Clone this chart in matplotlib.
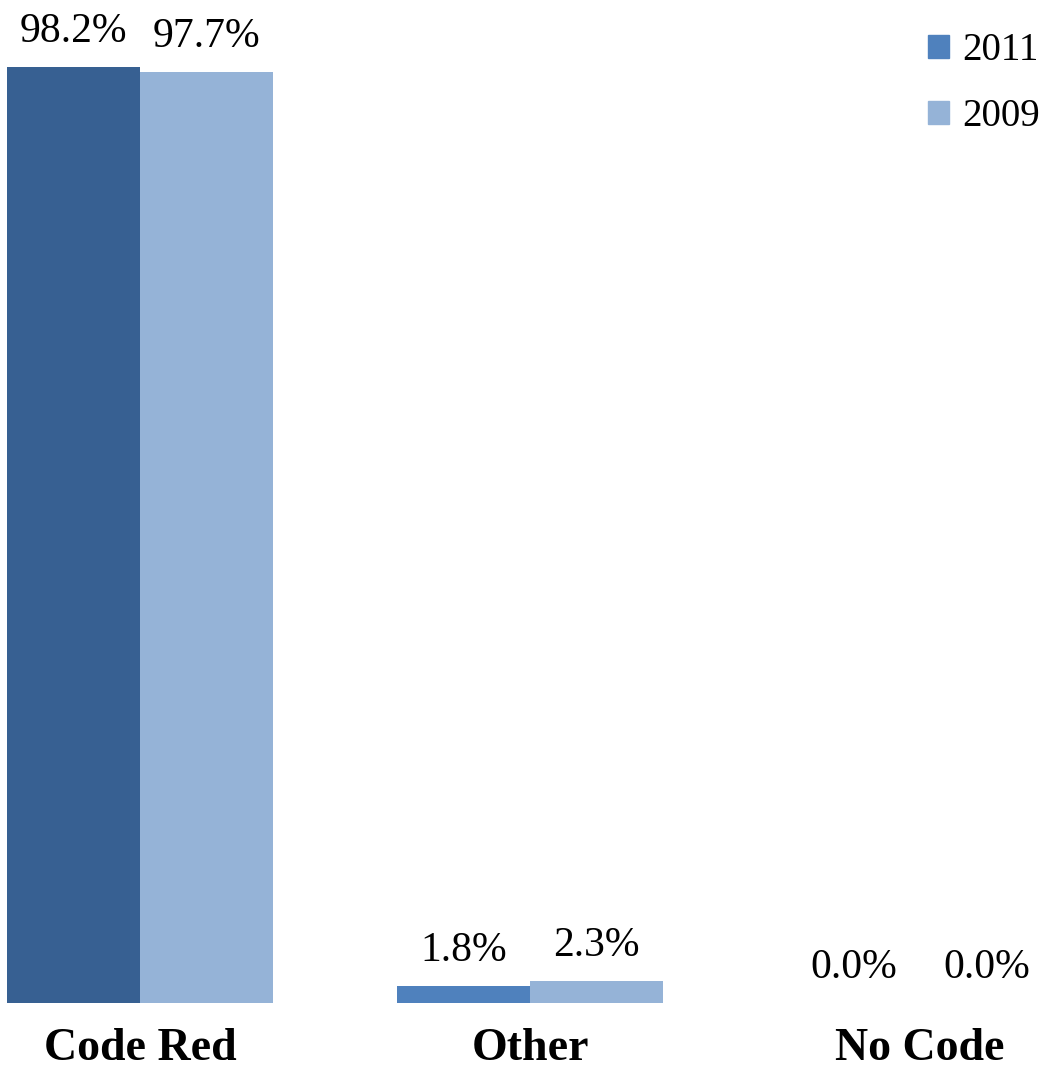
import matplotlib.pyplot as plt
import numpy as np
from matplotlib.patches import Patch

categories = ["Code Red", "Other", "No Code"]
values_2011 = [98.2, 1.8, 0.0]
values_2009 = [97.7, 2.3, 0.0]
labels_2011 = ["98.2%", "1.8%", "0.0%"]
labels_2009 = ["97.7%", "2.3%", "0.0%"]

colors_2011 = ["#376092", "#4F81BD", "#4F81BD"]
color_2009 = "#95B3D7"

plt.rcParams["font.family"] = ["Liberation Serif", "DejaVu Serif"]

fig = plt.figure(figsize=(10.44, 10.70), dpi=100)
ax = fig.add_axes([0, 67 / 1070, 1, 1003 / 1070])

x = np.arange(len(categories))
w = 133 / 390
b1 = ax.bar(x - w / 2, values_2011, w, color=colors_2011, label="2011")
b2 = ax.bar(x + w / 2, values_2009, w, color=color_2009, label="2009")

for bars, labels in ((b1, labels_2011), (b2, labels_2009)):
    for bar, lab in zip(bars, labels):
        ax.annotate(lab, (bar.get_x() + bar.get_width() / 2, bar.get_height()),
                    xytext=(0, 18), textcoords="offset points",
                    ha="center", va="baseline", fontsize=30)

ax.set_xlim(-140 / 390, (1044 - 140) / 390)
ax.set_ylim(0, 1003 / 9.532)
ax.set_xticks(x)
ax.set_xticklabels(categories, fontsize=33, fontweight="bold")
ax.tick_params(axis="x", length=0, pad=18)
ax.set_yticks([])
for s in ax.spines.values():
    s.set_visible(False)

handles = [Patch(color="#4F81BD", label="2011"), Patch(color=color_2009, label="2009")]
fig.legend(handles=handles, loc="upper right", bbox_to_anchor=(0.996, 0.970),
           frameon=False, fontsize=28, handlelength=0.55, handleheight=0.55,
           handletextpad=0.33, labelspacing=0.75, borderpad=0, borderaxespad=0)

fig.savefig("out.png", dpi=100)
